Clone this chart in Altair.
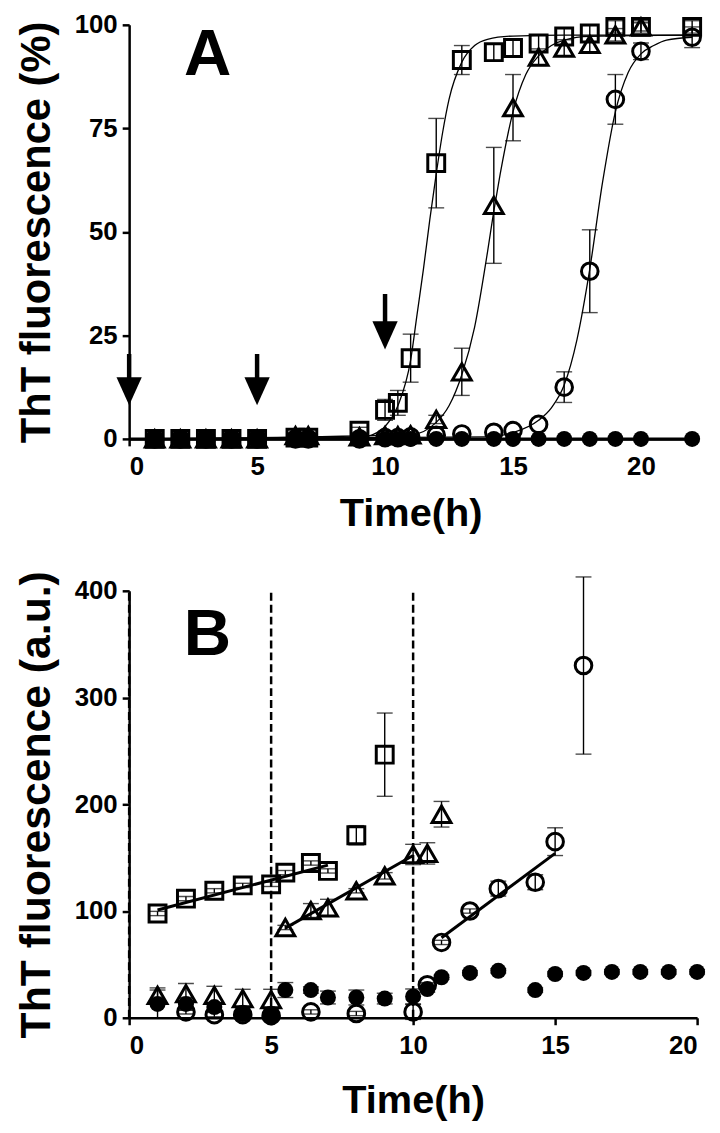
import altair as alt
import pandas as pd

FONT = "Liberation Sans"

# ---------------- Panel A data (ThT fluorescence %) ----------------
a_sq_time = [1, 2, 3, 4, 5, 6.5, 7, 9, 10, 10.5, 11, 12, 13, 14.25, 15, 16, 17, 18, 19, 20, 22]
a_sq_val = [0, 0, 0, 0, 0, 0.3, 0.3, 2, 7, 8.7, 19.5, 66.6, 91.5, 93.4, 94.4, 95.5, 97.2, 97.9, 99.5, 99.5, 99.5]
a_sq_err = [0, 0, 0, 0, 0, 0, 0, 0.8, 2.5, 3, 5.8, 10.8, 3.5, 2, 2, 2, 2, 2, 1.5, 1.5, 1.5]

a_tri_time = [1, 2, 3, 4, 5, 6.5, 7, 9, 10, 10.5, 11, 12, 13, 14.25, 15, 16, 17, 18, 19, 20]
a_tri_val = [0, 0, 0, 0, 0, 0.8, 0.8, 0.5, 0.8, 0.8, 1, 4.7, 16.2, 56.4, 80, 92.2, 94.4, 95.3, 97.6, 99.5]
a_tri_err = [0, 0, 0, 0, 0, 0, 0, 0, 0, 0, 0, 1, 5.7, 14, 8, 2, 2, 2, 1.5, 1]

a_circ_time = [1, 2, 3, 4, 5, 6.5, 7, 9, 10, 10.5, 11, 12, 13, 14.25, 15, 16, 17, 18, 19, 20, 22]
a_circ_val = [0, 0, 0, 0, 0, 0, 0, 0, 0.3, 0.3, 0.5, 0.9, 1.2, 1.6, 2, 3.5, 12.5, 40.5, 82, 93.6, 97]
a_circ_err = [0, 0, 0, 0, 0, 0, 0, 0, 0, 0, 0, 0, 0, 0, 0, 0, 3.7, 10, 6, 2, 2.5]

a_fill_time = [1, 2, 3, 4, 5, 6.5, 7, 9, 10, 10.5, 11, 12, 13, 14.25, 15, 16, 17, 18, 19, 20, 22]
a_fill_val = [0, 0, 0, 0, 0, 0, 0, 0, 0, 0, 0, 0, 0, 0, 0, 0, 0, 0, 0, 0, 0]

# fitted curves
a_sq_fit_t = [0, 9, 9.5, 10, 10.5, 11, 11.25, 11.5, 11.75, 12, 12.25, 12.5, 13, 13.5, 14, 15, 17, 22]
a_sq_fit_v = [0, 0.3, 1, 3, 8, 19, 30, 41, 53, 64, 74, 82, 91, 95, 96.5, 97.3, 97.5, 97.5]
a_tri_fit_t = [0, 11, 12, 12.5, 13, 13.5, 14, 14.25, 14.5, 15, 15.5, 16, 16.5, 17, 18, 22]
a_tri_fit_v = [0, 1, 4, 8, 15.5, 27, 45, 55, 64, 79, 88, 92.5, 95, 96.3, 97.2, 97.5]
a_circ_fit_t = [0, 14, 15, 16, 16.5, 17, 17.5, 18, 18.5, 19, 19.5, 20, 20.5, 21, 22]
a_circ_fit_v = [0, 0.5, 1.5, 4.5, 7.5, 13, 24, 41, 62, 79, 88.5, 93, 95, 96.3, 97]
a_fill_fit_t = [0, 22]
a_fill_fit_v = [0, 0]

# arrows (addition times)
arrow_time = [0, 5, 10]
arrow_top = [20.5, 20.5, 35]
arrow_base = [13.6, 13.6, 27]
arrow_head = [11.5, 11.5, 25]

# ---------------- Panel B data (ThT fluorescence a.u.) ----------------
b_sq_time = [1, 2, 3, 4, 5, 5.5, 6.4, 7, 8, 9]
b_sq_val = [97.7, 111.6, 119, 124, 125, 136, 145, 137.6, 171, 246.5]
b_sq_err = [2, 2, 2, 2, 2, 2, 2, 2, 9, 39]

b_tri_time = [1, 2, 3, 4, 5, 5.5, 6.4, 7, 8, 9, 10, 10.5, 11]
b_tri_val = [21, 22.6, 21, 18, 17, 84.6, 100.5, 103, 119, 133, 153, 154, 190.7]
b_tri_err = [7, 9.5, 8.5, 8.7, 9.7, 2, 6.5, 8, 2, 3, 9.5, 10, 12]

b_circ_time = [2, 3, 4, 5, 6.4, 8, 10, 10.5, 11, 12, 13, 14.3, 15, 16]
b_circ_val = [5.5, 3, 3, 2, 5.5, 4, 5.5, 31, 70.6, 100, 121, 127, 165, 330]
b_circ_err = [2, 2, 2, 2, 2, 2, 7, 2, 2, 2, 7, 7, 13, 83]

b_fill_time = [1, 2, 3, 4, 5, 5.5, 6.4, 7, 8, 9, 10, 10.5, 11, 12, 13, 14.3, 15, 16, 17, 18, 19, 20]
b_fill_val = [13, 13, 10, 3.5, 2, 26, 26, 19, 19, 18, 20, 27, 38, 42, 44, 26, 41, 42, 43, 43, 43, 43]
b_fill_err = [13, 6, 4, 2, 2, 7, 3, 6, 7, 5, 7, 3, 2, 2, 2, 2, 2, 2, 2, 2, 2, 2]

b_sq_fit_t = [1, 7]
b_sq_fit_v = [101, 143]
b_tri_fit_t = [5.5, 10]
b_tri_fit_v = [84, 152]
b_circ_fit_t = [11, 15]
b_circ_fit_v = [75, 154]

b_dash_time = [0, 5, 10]
b_dash_lo = [0, 0, 0]
b_dash_hi = [400, 400, 400]


def df(t, v, e=None):
    d = pd.DataFrame({"t": t, "v": v})
    if e is not None:
        d["e"] = e
        d["lo"] = d["v"] - d["e"]
        d["hi"] = d["v"] + d["e"]
    return d


def panel(xdom, xticks, ydom, yticks, ytitle, ytitle_size, series, fits, fit_widths,
          filled, extra, label, label_pos, width, height, tpad):
    xs = alt.Scale(domain=xdom, nice=False, zero=False)
    ys = alt.Scale(domain=ydom, nice=False)
    xax = alt.Axis(values=xticks, title="Time(h)", titleFontSize=40, titlePadding=tpad,
                   labelFontSize=26, labelPadding=8, grid=False)
    yax = alt.Axis(values=yticks, title=ytitle, titleFontSize=ytitle_size, titlePadding=16,
                   labelFontSize=26, labelPadding=5, grid=False)
    X = lambda: alt.X("t:Q", scale=xs, axis=xax)
    Y = lambda: alt.Y("v:Q", scale=ys, axis=yax)
    layers = []
    # fitted lines
    for (ft, fv), w in zip(fits, fit_widths):
        layers.append(alt.Chart(df(ft, fv)).mark_line(
            color="black", strokeWidth=w, interpolate="monotone").encode(x=X(), y=Y()))
    # error bars
    for (t, v, e, shape) in series + [filled]:
        d = df(t, v, e)
        d = d[d["e"] > 0]
        base = alt.Chart(d)
        layers.append(base.mark_rule(color="black", strokeWidth=1.4).encode(
            x=X(), y=alt.Y("lo:Q", scale=ys, axis=yax), y2="hi:Q"))
        layers.append(base.mark_tick(color="black", orient="horizontal", size=16, thickness=1.4).encode(
            x=X(), y=alt.Y("lo:Q", scale=ys, axis=yax)))
        layers.append(base.mark_tick(color="black", orient="horizontal", size=16, thickness=1.4).encode(
            x=X(), y=alt.Y("hi:Q", scale=ys, axis=yax)))
    # open markers
    sizes = {"square": 290, "triangle-up": 360, "circle": 280}
    for (t, v, e, shape) in series:
        layers.append(alt.Chart(df(t, v)).mark_point(
            shape=shape, filled=False, color="black", strokeWidth=3, size=sizes[shape], opacity=1
        ).encode(x=X(), y=Y()))
    ft, fv, fe, _ = filled
    layers.append(alt.Chart(df(ft, fv)).mark_circle(color="black", size=260, opacity=1).encode(x=X(), y=Y()))
    layers.extend(extra(X, Y, xs, ys, xax, yax))
    lab = pd.DataFrame({"t": [label_pos[0]], "v": [label_pos[1]], "s": [label]})
    layers.append(alt.Chart(lab).mark_text(font=FONT, fontSize=66, fontWeight="bold", color="black",
                                           align="center", baseline="alphabetic").encode(
        x=X(), y=Y(), text="s:N"))
    return alt.layer(*layers).properties(width=width, height=height)


def arrows(X, Y, xs, ys, xax, yax):
    d = pd.DataFrame({"t": arrow_time, "top": arrow_top, "base": arrow_base, "v": arrow_head})
    shaft = alt.Chart(d).mark_rule(color="black", strokeWidth=4.5).encode(
        x=X(), y=alt.Y("top:Q", scale=ys, axis=yax), y2="base:Q")
    head = alt.Chart(d).mark_point(shape="M-0.9,-1L0.9,-1L0,1Z", filled=True, color="black",
                                   size=800, opacity=1).encode(x=X(), y=Y())
    return [shaft, head]


def dashes(X, Y, xs, ys, xax, yax):
    d = pd.DataFrame({"t": b_dash_time, "lo": b_dash_lo, "hi": b_dash_hi})
    return [alt.Chart(d).mark_rule(color="black", strokeWidth=2.5, strokeDash=[8, 4]).encode(
        x=X(), y=alt.Y("lo:Q", scale=ys, axis=yax), y2="hi:Q")]


chartA = panel(
    [0, 22], [0, 5, 10, 15, 20], [0, 100], [0, 25, 50, 75, 100], "ThT fluorescence (%)", 42,
    [(a_sq_time, a_sq_val, a_sq_err, "square"),
     (a_tri_time, a_tri_val, a_tri_err, "triangle-up"),
     (a_circ_time, a_circ_val, a_circ_err, "circle")],
    [(a_sq_fit_t, a_sq_fit_v), (a_tri_fit_t, a_tri_fit_v), (a_circ_fit_t, a_circ_fit_v),
     (a_fill_fit_t, a_fill_fit_v)],
    [1.3, 1.3, 1.3, 3],
    (a_fill_time, a_fill_val, [0] * len(a_fill_time), "circle"),
    arrows, "A", (3.07, 88), 567, 417, 14)

chartB = panel(
    [0, 20], [0, 5, 10, 15, 20], [0, 400], [0, 100, 200, 300, 400], "ThT fluorescence (a.u.)", 43,
    [(b_sq_time, b_sq_val, b_sq_err, "square"),
     (b_tri_time, b_tri_val, b_tri_err, "triangle-up"),
     (b_circ_time, b_circ_val, b_circ_err, "circle")],
    [(b_sq_fit_t, b_sq_fit_v), (b_tri_fit_t, b_tri_fit_v), (b_circ_fit_t, b_circ_fit_v)],
    [3, 3, 3],
    (b_fill_time, b_fill_val, b_fill_err, "circle"),
    dashes, "B", (2.76, 340), 572, 430, 22)

chart = alt.vconcat(chartA, chartB, spacing=37).properties(
    padding={"left": 7, "top": 0, "right": 5, "bottom": 0}
).configure_view(stroke=None).configure_axis(
    labelFont=FONT, titleFont=FONT, labelFontWeight="bold", titleFontWeight="bold",
    labelColor="black", titleColor="black", domainColor="black", tickColor="black",
    domainWidth=2.5, tickWidth=2.5, tickSize=7
)

chart.save("out.html", embed_options={"renderer": "svg", "actions": False})
